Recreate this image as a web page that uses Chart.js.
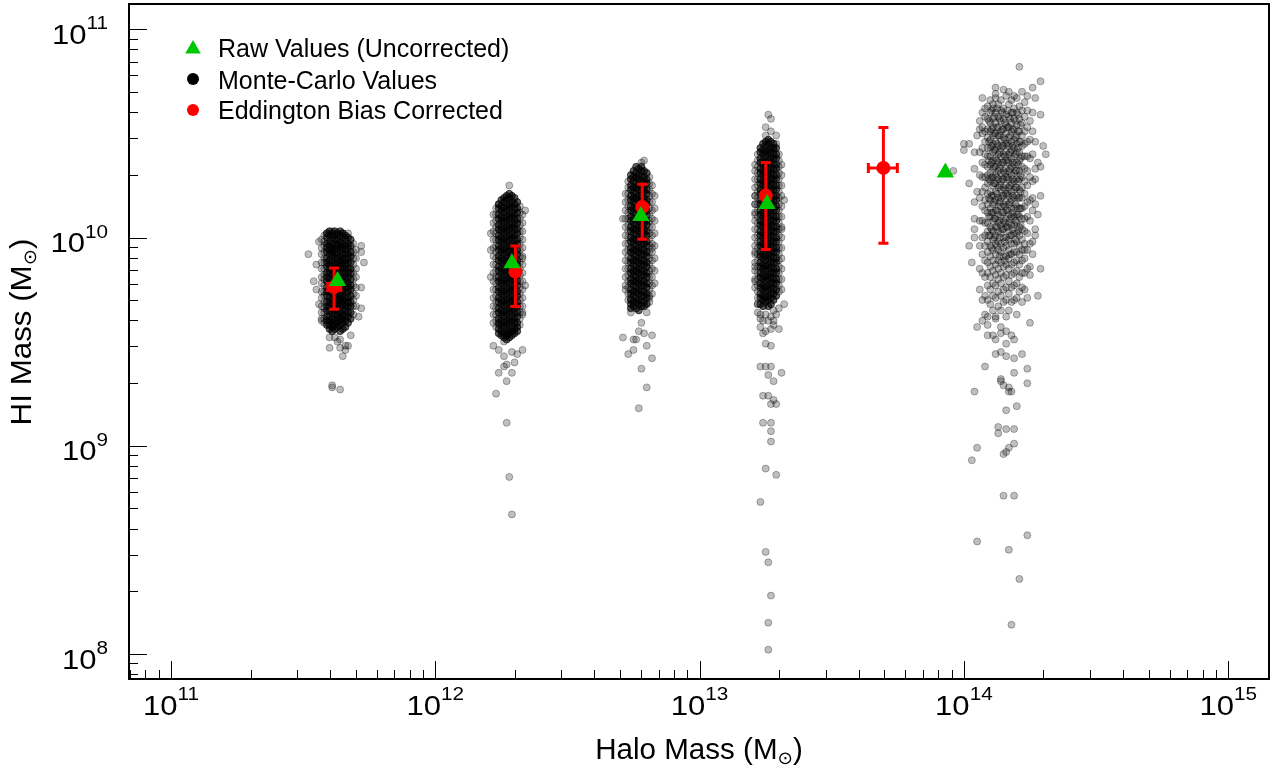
<!DOCTYPE html>
<html><head><meta charset="utf-8">
<script src="https://cdn.jsdelivr.net/npm/chart.js@4.4.0/dist/chart.umd.min.js"></script>
<style>html,body{margin:0;padding:0;background:#fff;}canvas{display:block;}</style>
</head><body>
<canvas id="c" width="1271" height="767"></canvas>
<script>
// ---------- values ----------
// Raw (uncorrected) stacked values, halo mass [Msun] and HI mass [Msun]
const rawX = [4.27e11, 1.95e12, 6.0e12, 1.80e13, 8.51e13];
const rawY = [6.18e9, 7.52e9, 1.27e10, 1.45e10, 2.05e10];
// Eddington-bias corrected values with error bars
const corrX = [4.14e11, 2.01e12, 6.07e12, 1.78e13, 4.96e13];
const corrY = [5.78e9, 6.86e9, 1.40e10, 1.59e10, 2.16e10];
const corrYLow = [4.52e9, 4.66e9, 9.8e9, 8.77e9, 9.38e9];
const corrYHigh = [7.13e9, 9.10e9, 1.80e10, 2.29e10, 3.38e10];
const corrXLow = [3.92e11, null, null, null, 4.35e13];
const corrXHigh = [4.39e11, null, null, null, 5.60e13];
// Monte-Carlo realisations.
// Each entry: [log10(halo mass)*100, log10(HI mass)*100, ...more HI values at that halo mass]
// "Core" arrays hold the heavily over-plotted (black) centres of the first four clouds.
const mc1Core = [
 [1159,1002,1000,997,995,993,990,988,986,983,981,979,976,974,972,969,967,965,962,960,958],
 [1160,1003,1001,998,996,994,992,989,987,985,983,980,978,976,974,971,969,967,965,962,960,958,956],
 [1161,1002,1000,997,995,993,991,988,986,984,982,979,977,975,973,970,968,966,964,961,959,957,955],
 [1162,1003,1001,999,996,994,992,990,987,985,983,981,978,976,974,972,969,967,965,963,960,958,956],
 [1163,1002,999,997,995,993,990,988,986,984,981,979,977,975,972,970,968,966,963,961,959,957],
 [1164,1003,1001,998,996,994,991,989,987,985,982,980,978,976,973,971,969,967,964,962,960,958,955],
 [1165,1002,1000,997,995,992,990,988,986,983,981,979,977,974,972,970,968,965,963,961,959,956],
 [1166,1001,999,996,994,992,989,987,985,983,980,978,976,974,971,969,967,965,962,960,957],
 [1167,1000,997,995,992,990,988,985,983,981,978,976,974,971,969,967,964,962,959],
 [1168,999,996,993,991,988,985,983,980,977,975,972,969,967,964,961]
];
const mc1 = [
 [1157,999,995,992,988,985,981,978,974,971,967,964,961],
 [1158,1001,998,996,993,990,988,985,982,980,977,974,972,969,966,964,961,959],
 [1169,997,993,990,987,983,980,977,973,970,967,963],
 [1170,994,990,985,981,976,972,967],
 [1152,992],[1155,987,975],[1154,979],[1156,998,968],[1157,960],[1159,1002],[1161,1003],
 [1165,1002],[1167,1002],[1171,962],[1172,996,993,976,966],[1173,988],
 [1160,952,947],[1162,952],[1166,948,946],[1167,948],[1164,947,951],[1165,943],
 [1161,929,928],[1164,927],[1168,953],[1163,950]
];
const mc2Core = [
 [1224,1016,1014,1011,1009,1006,1004,1001,999,996,994,991,989,986,984,981,979,976,974,971,969,966,964,961,959,956,954],
 [1225,1018,1015,1013,1010,1008,1005,1003,1000,998,995,993,990,988,985,983,980,978,975,973,970,968,965,963,960,958,955,953],
 [1226,1019,1017,1014,1012,1009,1007,1004,1002,999,997,994,992,989,987,984,982,979,977,974,972,969,967,964,962,959,957,954,952],
 [1227,1020,1018,1015,1013,1010,1008,1005,1003,1000,998,995,993,990,988,985,983,980,978,975,973,970,968,965,963,960,958,955,953,951],
 [1228,1021,1019,1016,1014,1011,1009,1006,1004,1001,999,996,994,991,989,986,984,981,979,976,974,971,969,966,964,961,959,956,954,952],
 [1229,1020,1017,1015,1012,1010,1007,1005,1002,1000,997,995,992,990,987,985,982,980,977,975,972,970,967,965,962,960,957,955,953],
 [1230,1019,1016,1014,1011,1009,1006,1004,1001,999,996,994,991,989,986,984,981,979,976,974,971,969,966,964,961,959,956,954],
 [1231,1017,1014,1012,1009,1007,1004,1002,999,997,994,992,989,987,984,982,979,977,974,972,969,967,964,962,959,957,955]
];
const mc2 = [
 [1222,1011,1007,1003,999,995,991,987,983,979,975,971,967,963,959],
 [1223,1014,1011,1008,1005,1002,999,996,993,990,987,984,981,978,975,972,969,966,963,960,957],
 [1232,1015,1012,1009,1006,1003,1000,997,994,991,988,985,982,979,976,973,970,967,964,961,958],
 [1233,1011,1007,1003,999,995,991,987,983,979,975,971,967,963],
 [1228,1025],[1224,1016],[1234,1013,977],[1221,1002,994,981],[1233,990,964],[1224,958,946,935],
 [1222,948],[1226,950,943,938],[1233,946],[1229,945,935],[1231,944],[1230,940],
 [1227,939,931,911],[1223,925],[1228,885],[1229,867]
];
const mc3Core = [
 [1274,1030,1028,1025,1023,1020,1018,1015,1013,1010,1008,1005,1003,1000,998,995,993,990,988,985,983,980,978,975,973,970,968,966],
 [1275,1032,1029,1027,1024,1022,1019,1017,1014,1012,1009,1007,1004,1002,999,997,994,992,989,987,984,982,979,977,974,972,969,967],
 [1276,1034,1031,1029,1026,1024,1021,1019,1016,1014,1011,1009,1006,1004,1001,999,996,994,991,989,986,984,981,979,976,974,971,969,966],
 [1277,1033,1030,1028,1025,1023,1020,1018,1015,1013,1010,1008,1005,1003,1000,998,995,993,990,988,985,983,980,978,975,973,970,968,965],
 [1278,1034,1032,1029,1027,1024,1022,1019,1017,1014,1012,1009,1007,1004,1002,999,997,994,992,989,987,984,982,979,977,974,972,969,967],
 [1279,1032,1029,1027,1024,1022,1019,1017,1014,1012,1009,1007,1004,1002,999,997,994,992,989,987,984,982,979,977,974,972,969,967],
 [1280,1031,1028,1026,1023,1021,1018,1016,1013,1011,1008,1006,1003,1001,998,996,993,991,988,986,983,981,978,976,973,971,968]
];
const mc3 = [
 [1272,1021,1017,1013,1009,1005,1001,997,993,989,985,981,977],
 [1273,1027,1024,1021,1018,1015,1012,1009,1006,1003,1000,997,994,991,988,985,982,979,976,973,970],
 [1281,1029,1026,1023,1020,1017,1014,1011,1008,1005,1002,999,996,993,990,987,984,981,978,975,972,969],
 [1282,1025,1021,1017,1013,1009,1005,1001,997,993,989,985,981,977,973],
 [1283,1020,1014,1008,1002,996,990,984,978],
 [1279,1037],[1278,1036],[1271,1009,952],[1282,995,953,942],[1272,975],[1274,971,964],[1281,971],
 [1280,964,948,928],[1278,959,937],[1277,955,918],[1279,954],[1275,951,946],[1276,951],[1273,944]
];
const mc4Core = [
 [1323,1043,1041,1038,1036,1033,1031,1028,1026,1023,1021,1018,1016,1013,1011,1008,1006,1003,1001,998,996,993,991,988,986,983,981,978,976,973,971,968],
 [1324,1045,1042,1040,1037,1035,1032,1030,1027,1025,1022,1020,1017,1015,1012,1010,1007,1005,1002,1000,997,995,992,990,987,985,982,980,977,975,972,970,967],
 [1325,1046,1044,1041,1039,1036,1034,1031,1029,1026,1024,1021,1019,1016,1014,1011,1009,1006,1004,1001,999,996,994,991,989,986,984,981,979,976,974,971,969],
 [1326,1047,1045,1042,1040,1037,1035,1032,1030,1027,1025,1022,1020,1017,1015,1012,1010,1007,1005,1002,1000,997,995,992,990,987,985,982,980,977,975,972,970,967],
 [1327,1046,1043,1041,1038,1036,1033,1031,1028,1026,1023,1021,1018,1016,1013,1011,1008,1006,1003,1001,998,996,993,991,988,986,983,981,978,976,973,971,968],
 [1328,1045,1043,1040,1038,1035,1033,1030,1028,1025,1023,1020,1018,1015,1013,1010,1008,1005,1003,1000,998,995,993,990,988,985,983,980,978,975,973,970],
 [1329,1043,1040,1038,1035,1033,1030,1028,1025,1023,1020,1018,1015,1013,1010,1008,1005,1003,1000,998,995,993,990,988,985,983,980,978,975,972]
];
const mc4 = [
 [1321,1032,1028,1024,1020,1016,1012,1008,1004,1000,996,992,988,984,980,976],
 [1322,1040,1037,1034,1031,1028,1025,1022,1019,1016,1013,1010,1007,1004,1001,998,995,992,989,986,983,980,977,974,971,968],
 [1330,1040,1037,1034,1031,1028,1025,1022,1019,1016,1013,1010,1007,1004,1001,998,995,992,989,986,983,980,977,974],
 [1331,1035,1030,1025,1020,1015,1010,1005,1000,995,990,985,980],
 [1322,964],[1323,961,957],[1325,963,955],[1326,960],[1327,962,956],[1328,958,965],[1329,963],[1330,966],
 [1326,1059],[1327,1057,1051],[1325,1053,1049],[1329,1049,1045],[1328,1042],
 [1321,1035,1020,1016,1011,993,986,979],[1332,1018,968],[1331,1004,975],[1322,968],
 [1323,963,938,873],[1324,960,954,924,911],[1328,960,931,922],[1330,956],[1325,949,938,889,849],
 [1327,948,938,920,911,907,902,828],[1331,935],[1326,934,924,844,815,802],[1329,920,886]
];
const mc5 = [
 [1406,1052,1041,1030,1019,1008,996,985,975],
 [1407,1060,1050,1043,1036,1029,1022,1015,1008,1000,992,983,970],
 [1408,1058,1051,1046,1040,1035,1029,1024,1018,1013,1007,1001,996,989,981,972,963],
 [1409,1063,1057,1052,1048,1043,1039,1034,1030,1026,1021,1016,1012,1007,1003,998,993,988,983,977,970,962],
 [1410,1066,1060,1055,1051,1047,1043,1039,1035,1031,1027,1022,1018,1014,1010,1005,1001,996,991,986,981,975,968],
 [1411,1062,1057,1053,1049,1045,1041,1037,1033,1029,1025,1020,1016,1012,1008,1003,999,994,989,984,978,972,965],
 [1412,1069,1060,1055,1050,1046,1042,1038,1034,1030,1026,1022,1018,1013,1009,1005,1001,997,992,987,982,977,971,962],
 [1413,1064,1058,1053,1049,1044,1040,1036,1032,1028,1024,1019,1015,1011,1007,1003,998,994,989,985,980,974,967],
 [1414,1066,1061,1056,1051,1047,1043,1039,1035,1031,1027,1023,1019,1015,1010,1006,1002,997,993,988,983,978,972,965],
 [1415,1062,1057,1052,1048,1044,1040,1036,1032,1028,1024,1020,1016,1012,1008,1004,1000,995,991,986,981,975,969],
 [1416,1068,1059,1054,1050,1045,1041,1037,1033,1029,1025,1021,1017,1013,1009,1005,1000,996,991,987,982,976,970,962],
 [1417,1064,1058,1053,1048,1044,1040,1036,1032,1028,1024,1020,1016,1011,1007,1003,999,994,990,985,979,973,965],
 [1418,1066,1060,1055,1051,1046,1042,1038,1034,1030,1026,1022,1018,1014,1010,1006,1001,997,992,987,982,976,969],
 [1419,1062,1057,1052,1047,1043,1039,1035,1031,1027,1023,1019,1014,1010,1006,1002,997,993,988,983,977,970],
 [1420,1067,1060,1054,1049,1045,1041,1036,1032,1028,1024,1020,1015,1011,1007,1002,998,993,989,984,978,971,963],
 [1421,1063,1057,1051,1046,1041,1037,1032,1028,1023,1019,1014,1010,1005,1001,996,992,987,981,974],
 [1422,1070,1061,1055,1049,1044,1039,1034,1029,1024,1019,1014,1009,1004,999,994,989,983,976,969],
 [1423,1065,1058,1051,1045,1039,1033,1027,1021,1015,1009,1003,997,990,983,975],
 [1424,1061,1053,1046,1039,1032,1025,1017,1010,1002,994,985,971],
 [1425,1056,1047,1038,1029,1018,1008,997,986],
 [1426,1051,1040,1027,1013,992],
 [1427,1046,1033,1016,1001],
 [1409.5,1056,1046,1037,1028,1019,1010,1001],
 [1410.5,1061,1052,1044,1036,1029,1020,1012,1004,995],
 [1411.5,1058,1050,1042,1034,1026,1017,1009,1000],
 [1412.5,1062,1053,1045,1037,1029,1021,1013,1005,996],
 [1413.5,1057,1049,1041,1033,1025,1017,1008,1000,991],
 [1414.5,1060,1052,1044,1036,1028,1020,1012,1004],
 [1415.5,1055,1047,1039,1031,1023,1015,1007,998,989],
 [1416.5,1061,1053,1045,1037,1029,1021,1013,1005],
 [1417.5,1057,1049,1041,1033,1025,1017,1009,1001,992],
 [1418.5,1060,1052,1044,1036,1028,1020,1012,1004],
 [1419.5,1056,1048,1040,1032,1024,1016,1008,999],
 [1420.5,1059,1051,1043,1035,1027,1019,1011,1003],
 [1421.5,1054,1046,1038,1030,1022,1014,1006],
 [1396,1032],[1400,1045,1042],[1402,1045,1026,996],[1403,988,893],[1404,1041,1033,1017,1009,1004,1000,926],
 [1405,1049,1022,957,899,854],[1406,1056],[1407,1053,1067,960],[1408,1062,938],[1409,958,953],[1411,1064,953],
 [1412,1072,1067,961,951,944],[1413,909,906],[1414,957,954,945,932,931],[1415,1071,929,896,876],
 [1416,955,949,943,917,908,897],[1417,1070,928,926,899,850],[1418,953,926,814],
 [1419,1068,951,942,935,908,901,876],[1420,919],[1421,1082,836],[1422,944],[1423,994],
 [1424,1068,937,930,857],[1425,982,959],[1426,1072,1060,1019,998],[1427,1067,1028,1004],
 [1428,1036,1011,972],[1429,1075,1059,1034,1020,985],[1430,1044],[1431,1040]
];
const xTickExps = [11, 12, 13, 14, 15];
const yTickExps = [8, 9, 10, 11];
const legendLabels = ['Raw Values (Uncorrected)', 'Monte-Carlo Values', 'Eddington Bias Corrected'];
const xTitle = ['Halo Mass (M', '\u2299', ')'];
const yTitle = ['HI Mass (M', '\u2299', ')'];

// ---------- build ----------
const fromLog = v => Math.pow(10, v / 100);
function cloudPoints(cols) {
  const pts = [];
  for (const c of cols) {
    const x = fromLog(c[0]);
    for (let i = 1; i < c.length; i++) pts.push({ x: x, y: fromLog(c[i]) });
  }
  return pts;
}
const mcPoints = [].concat(cloudPoints(mc1), cloudPoints(mc2), cloudPoints(mc3), cloudPoints(mc4), cloudPoints(mc5));
const mcCorePoints = [].concat(cloudPoints(mc1Core), cloudPoints(mc2Core), cloudPoints(mc3Core), cloudPoints(mc4Core));
const rawPoints = rawX.map((x, i) => ({ x: x, y: rawY[i] }));
const corrPoints = corrX.map((x, i) => ({ x: x, y: corrY[i] }));

const GREEN = 'rgb(0,200,0)';
const RED = 'rgb(255,0,0)';
const FONT = '"Liberation Sans", Arial, Helvetica, sans-serif';
const SYM = '"DejaVu Sans", sans-serif';

function drawErrorBars(chart) {
  const ctx = chart.ctx, xs = chart.scales.x, ys = chart.scales.y;
  ctx.save();
  ctx.strokeStyle = RED; ctx.lineWidth = 3; ctx.lineCap = 'butt';
  const cap = 5;
  for (let i = 0; i < corrX.length; i++) {
    const px = xs.getPixelForValue(corrX[i]);
    const py = ys.getPixelForValue(corrY[i]);
    const yt = ys.getPixelForValue(corrYHigh[i]);
    const yb = ys.getPixelForValue(corrYLow[i]);
    ctx.beginPath();
    ctx.moveTo(px, yt); ctx.lineTo(px, yb);
    ctx.moveTo(px - cap, yt); ctx.lineTo(px + cap, yt);
    ctx.moveTo(px - cap, yb); ctx.lineTo(px + cap, yb);
    if (corrXLow[i] != null) {
      const xl = xs.getPixelForValue(corrXLow[i]);
      const xr = xs.getPixelForValue(corrXHigh[i]);
      ctx.moveTo(xl, py); ctx.lineTo(xr, py);
      ctx.moveTo(xl, py - cap); ctx.lineTo(xl, py + cap);
      ctx.moveTo(xr, py - cap); ctx.lineTo(xr, py + cap);
    }
    ctx.stroke();
  }
  ctx.restore();
}

function measureParts(ctx, parts, sx) {
  let w = 0;
  for (const p of parts) { ctx.font = p.font; p.w = ctx.measureText(p.text).width * sx; w += p.w; }
  return w;
}
function drawParts(ctx, parts, x, y, sx) {
  let cx = x;
  for (const p of parts) {
    ctx.font = p.font;
    ctx.save(); ctx.translate(cx, y + (p.dy || 0)); ctx.scale(sx, 1);
    ctx.fillText(p.text, 0, 0); ctx.restore();
    cx += p.w;
  }
}
function powerParts(e) {
  return [{ text: '10', font: '27px ' + FONT, dy: 0 }, { text: String(e), font: '18px ' + FONT, dy: -14.7 }];
}

const decorPlugin = {
  id: 'decor',
  afterDatasetDraw(chart, args) { if (args.index === 2) drawErrorBars(chart); },
  afterDraw(chart) {
    const ctx = chart.ctx, a = chart.chartArea, xs = chart.scales.x, ys = chart.scales.y;
    ctx.save();
    ctx.fillStyle = '#000'; ctx.strokeStyle = '#000'; ctx.textBaseline = 'alphabetic';
    ctx.lineWidth = 1;
    ctx.beginPath();
    for (let e = 10; e <= 15; e++) for (let m = 1; m <= 9; m++) {
      const v = m * Math.pow(10, e);
      if (v < xs.min || v > xs.max) continue;
      const px = Math.round(xs.getPixelForValue(v)) + 0.5;
      const len = m === 1 ? 18 : 9;
      ctx.moveTo(px, a.bottom); ctx.lineTo(px, a.bottom - len);
    }
    for (let e = 7; e <= 11; e++) for (let m = 1; m <= 9; m++) {
      const v = m * Math.pow(10, e);
      if (v < ys.min || v > ys.max) continue;
      const py = Math.round(ys.getPixelForValue(v)) + 0.5;
      const len = m === 1 ? 18 : 9;
      ctx.moveTo(a.left, py); ctx.lineTo(a.left + len, py);
    }
    ctx.stroke();
    ctx.lineWidth = 2;
    ctx.strokeRect(a.left, a.top, a.right - a.left, a.bottom - a.top);
    const sx = 1.15;
    for (const e of xTickExps) {
      const parts = powerParts(e);
      const w = measureParts(ctx, parts, sx);
      drawParts(ctx, parts, xs.getPixelForValue(Math.pow(10, e)) - w / 2, a.bottom + 36, sx);
    }
    for (const e of yTickExps) {
      const parts = powerParts(e);
      const w = measureParts(ctx, parts, sx);
      drawParts(ctx, parts, 108 - w, ys.getPixelForValue(Math.pow(10, e)) + 14.7, sx);
    }
    const tparts = t => [{ text: t[0], font: '29px ' + FONT, dy: 0 }, { text: t[1], font: '18px ' + SYM, dy: 5 }, { text: t[2], font: '29px ' + FONT, dy: 0 }];
    const xp = tparts(xTitle);
    const xw = measureParts(ctx, xp, 1.02);
    drawParts(ctx, xp, (a.left + a.right) / 2 - xw / 2, 759, 1.02);
    const yp = tparts(yTitle);
    const yw = measureParts(ctx, yp, 1.08);
    ctx.save(); ctx.translate(31, 332); ctx.rotate(-Math.PI / 2);
    drawParts(ctx, yp, -yw / 2, 0, 1.08);
    ctx.restore();
    const lx = 193, rows = [49, 79, 110], base = [57, 89, 119];
    ctx.fillStyle = GREEN;
    Chart.helpers.drawPoint(ctx, { pointStyle: 'triangle', radius: 9, rotation: 0, borderWidth: 0 }, lx, rows[0]);
    ctx.fillStyle = '#000';
    Chart.helpers.drawPoint(ctx, { pointStyle: 'circle', radius: 6, rotation: 0, borderWidth: 0 }, lx, rows[1]);
    ctx.fillStyle = RED;
    Chart.helpers.drawPoint(ctx, { pointStyle: 'circle', radius: 6, rotation: 0, borderWidth: 0 }, lx, rows[2]);
    ctx.fillStyle = '#000'; ctx.font = '25px ' + FONT;
    legendLabels.forEach((t, i) => ctx.fillText(t, 218, base[i]));
    ctx.restore();
  }
};

new Chart(document.getElementById('c'), {
  type: 'scatter',
  data: {
    datasets: [
      { label: legendLabels[0], data: rawPoints, pointStyle: 'triangle', pointRadius: 10, backgroundColor: GREEN, borderColor: GREEN, borderWidth: 0 },
      { label: legendLabels[2], data: corrPoints, pointStyle: 'circle', pointRadius: 7, backgroundColor: RED, borderColor: RED, borderWidth: 0 },
      { label: legendLabels[1], data: mcPoints, pointStyle: 'circle', pointRadius: 3.5, backgroundColor: 'rgba(0,0,0,0.25)', borderColor: 'rgba(0,0,0,0.3)', borderWidth: 1 },
      { label: legendLabels[1] + ' (over-plotted core)', data: mcCorePoints, pointStyle: 'circle', pointRadius: 3.5, backgroundColor: 'rgba(0,0,0,0.62)', borderColor: 'rgba(0,0,0,0.62)', borderWidth: 1 }
    ]
  },
  options: {
    responsive: false, animation: false, devicePixelRatio: 1, events: [],
    layout: { autoPadding: false, padding: { left: 129, right: 2, top: 4, bottom: 88 } },
    scales: {
      x: { type: 'logarithmic', min: 6.937e10, max: 1.427e15, display: false },
      y: { type: 'logarithmic', min: 7.577e7, max: 1.323e11, display: false }
    },
    plugins: { legend: { display: false }, tooltip: { enabled: false } }
  },
  plugins: [decorPlugin]
});
</script>
</body></html>
